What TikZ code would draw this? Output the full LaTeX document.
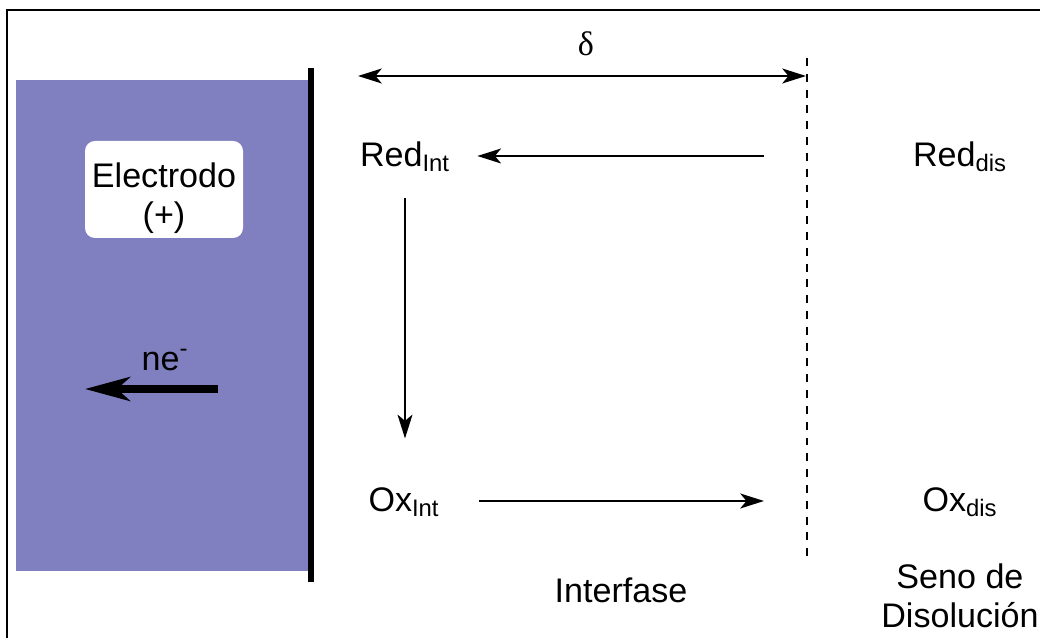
\documentclass[tikz,border=0pt]{standalone}
\usepackage{fontspec}
\setmainfont{Liberation Sans}
\newfontfamily\griega{Liberation Serif}
\usetikzlibrary{arrows.meta}
\definecolor{electrodo}{RGB}{128,128,192}
\begin{document}
\begin{tikzpicture}[
    >={Stealth[length=13.5pt,width=8.5pt,inset=3.5pt]},
    lbl/.style={font=\fontsize{19.4}{22}\selectfont, inner sep=2pt},
    flecha/.style={->, line width=1.1pt},
]
    \clip (0,0) rectangle (20.8,12.76);
    % Frame
    \draw[line width=1.1pt] (0.14,-1) rectangle (21.5,12.56);

    % Electrode
    \fill[electrodo] (0.32,1.34) rectangle (6.16,11.16);
    \draw[line width=3.4pt] (6.22,1.12) -- (6.22,11.4);
    \fill[white, rounded corners=0.2cm] (1.7,8.0) rectangle (4.86,9.94);
    \node[lbl, align=center] (electrodo) at (3.28,8.8) {Electrodo\\(+)};

    % Electron flow
    \coordinate (eA) at (4.36,4.98);
    \coordinate (eB) at (1.7,4.98);
    \draw[-{Stealth[length=0.9cm,width=0.48cm,inset=0.26cm]}, line width=4pt] (eA) -- (eB);
    \node[lbl] (ne) at (3.3,5.56) {ne\textsuperscript{-}};

    % Diffusion layer limit
    \coordinate (lsup) at (16.14,11.6);
    \coordinate (linf) at (16.14,1.62);
    \draw[line width=1.1pt, dash pattern=on 4.5pt off 4.5pt] (lsup) -- (linf);

    % Thickness delta
    \coordinate (dA) at (7.16,11.24);
    \coordinate (dB) at (16.12,11.24);
    \draw[<->, line width=1.1pt] (dA) -- (dB);
    \node[lbl, font=\griega\fontsize{19.4}{22}\selectfont] (delta) at (11.72,11.88) {δ};

    % Species
    \node[lbl] (redint) at (8.1,9.62) {Red\textsubscript{Int}};
    \node[lbl] (reddis) at (19.2,9.62) {Red\textsubscript{dis}};
    \node[lbl] (oxint) at (8.08,2.72) {Ox\textsubscript{Int}};
    \node[lbl] (oxdis) at (19.2,2.72) {Ox\textsubscript{dis}};

    % Transport and reaction
    \coordinate (iR) at (15.28,9.64);
    \coordinate (iO) at (15.28,2.74);
    \draw[flecha, shorten >=0.47cm] (iR) -- (iR -| redint.east);
    \draw[flecha, shorten <=0.71cm] (oxint.east |- iO) -- (iO);
    \draw[flecha, shorten <=0.44cm, shorten >=0.9cm] (redint.south) -- (redint.south |- oxint.north);

    % Regions
    \node[lbl] (interfase) at (12.42,0.96) {Interfase};
    \node[lbl, align=center] (seno) at (19.2,0.84) {Seno de\\Disolución};
\end{tikzpicture}
\end{document}
